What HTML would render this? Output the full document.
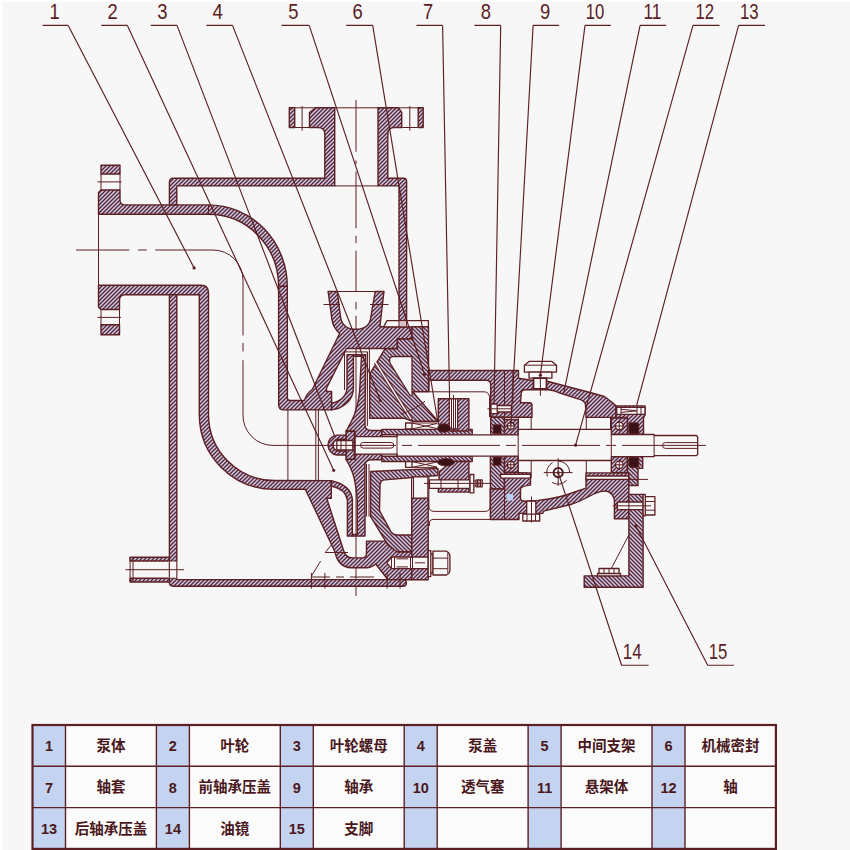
<!DOCTYPE html>
<html><head><meta charset="utf-8"><title>pump</title>
<style>
html,body{margin:0;padding:0;background:#f7f7f7;}
body{width:850px;height:850px;overflow:hidden;font-family:"Liberation Sans",sans-serif;}
svg{display:block}
.h{fill:url(#h);stroke:#5c2024;stroke-width:1.4;stroke-linejoin:round}
.k{fill:url(#k);stroke:#5c2024;stroke-width:1.4;stroke-linejoin:round}
.w{fill:#f7f7f7;stroke:#5c2024;stroke-width:1.3;stroke-linejoin:round}
.t{fill:none;stroke:#5c2024;stroke-width:1}
.m{fill:none;stroke:#5c2024;stroke-width:1.4}
.c{fill:none;stroke:#5c2024;stroke-width:1;stroke-dasharray:14 3 3 3}
.d{fill:#3a1216;stroke:#5c2024;stroke-width:1}
</style></head><body>
<svg width="850" height="850" viewBox="0 0 850 850">
<defs>
<pattern id="h" width="4" height="4" patternUnits="userSpaceOnUse"><rect width="4" height="4" fill="#c6caee"/><path d="M-1,1 L1,-1 M-1,5 L5,-1 M3,5 L5,3" stroke="#5e2327" stroke-width="1.3"/></pattern>
<pattern id="k" width="4" height="4" patternUnits="userSpaceOnUse"><rect width="4" height="4" fill="#c6caee"/><path d="M-1,3 L1,5 M-1,-1 L5,5 M3,-1 L5,1" stroke="#5e2327" stroke-width="1.3"/></pattern>
</defs>
<rect width="850" height="850" fill="#f7f7f7"/>
<rect x="0" y="0" width="2.2" height="850" fill="#ffffff"/><rect x="0" y="0" width="850" height="1.6" fill="#ffffff"/>
<!-- ===== centre lines (under) ===== -->
<g class="t">
<path d="M76,250 H129.4 M138,250 H146.7 M155.3,250 H213 A30,30 0 0 1 243,280 V335.5 M243,342.9 V351.5 M243,360.2 V415 A30,30 0 0 0 273,445.4"/>
<path d="M356,99.9 V151.8 M356,160.4 V164.1 M356,171.5 V228.3 M356,235.7 V243.2 M356,250.6 V291 M356,302 V309.5 M356,315.7 V596"/>
<path d="M287.9,410 V481 M315.8,410 V481 M318.4,410 V481"/>
</g>

<!-- ===== PUMP BODY (part 1) ===== -->
<!-- inlet: top flange + top wall + upper elbow -->
<rect class="h" x="101" y="165.3" width="19" height="8.7"/>
<path class="t" d="M101,174 V190 M120,174 V190 M97.5,181.9 H121.5"/>
<path class="h" d="M101,190 L120,190 L120,200 Q120,204.9 125,204.9 L208.5,204.9 A79,81.5 0 0 1 287.3,286.4 L278.6,286.4 A70,72 0 0 0 208.5,214.3 L98.5,214.3 L98.5,192.5 Z"/>
<path class="t" d="M208.5,204.9 V214.3 M98.5,214.3 V285.3"/>
<!-- inlet: bottom flange + bottom wall + inner wall + lower elbow + lower volute -->
<path class="h" d="M98.5,285.3 L201,285.3 Q208.5,285.3 208.5,293 L208.5,414.4 A66,66 0 0 0 274.3,480.5 L331.3,480.6 L331.3,498.2 L326.7,498.2 L343.5,550.2 Q345.5,557.9 352.7,557.9 L361.9,557.9 Q366.5,557.9 366.5,553.3 L366.5,541.1 L397,541.1 L397,551.8 L411.8,551.8 L411.8,579.8 L388,579.8 L375.7,564 Q371,567.8 366.5,567.8 L351.2,567.8 Q338,567 335,552 L305.3,489.1 L274.3,489.4 A75,75 0 0 1 199.3,414.4 L199.3,294.7 L125,294.7 Q119.5,294.7 119.5,300 L119.5,309.5 L101,309.5 L98.5,307 Z"/>
<path class="t" d="M101,309.5 V324.8 M119.5,309.5 V324.8 M97.5,317.4 H121"/>
<rect class="h" x="101" y="324.8" width="18.5" height="9.9"/>
<!-- tank top + outlet pipe left -->
<path class="h" d="M169.4,204.9 L169.4,182.2 Q169.4,178.2 173.4,178.2 L324.8,178.2 L324.8,134 Q324.8,127.5 318,127.5 L309.5,127.5 L309.5,112.5 L315.7,107.8 L334.7,107.8 L334.7,185.9 L176.8,185.9 L176.8,204.9 Z"/>
<rect class="h" x="289.3" y="107.8" width="5.4" height="19.7"/>
<path class="t" d="M294.7,107.8 H315.7 M294.7,127.5 H309.5 M302.1,106 V130.5"/>
<!-- outlet pipe right + tank right wall -->
<path class="h" d="M378,107.8 L398.5,107.8 L401.7,112.5 L401.7,127.5 L394.5,127.5 Q387.8,127.5 387.8,134 L387.8,178.2 L403.6,178.2 Q406.6,178.2 406.6,181.2 L406.6,320.6 L399,320.6 L399,185.9 L378,185.9 Z"/>
<rect class="h" x="418.2" y="107.8" width="5" height="19.7"/>
<path class="t" d="M398.5,107.8 H418.2 M401.7,127.5 H418.2 M409.8,106 V130.5 M334.7,107.8 H378 M334.7,185.9 H378"/>
<!-- tank left wall + floor -->
<path class="h" d="M169.4,294.7 L176.8,294.7 L176.8,579.6 L403,579.6 Q406.4,579.6 406.4,583 Q406.4,586.2 403,586.2 L173,586.2 Q169.4,586.2 169.4,582.6 Z"/>
<!-- drain nipple -->
<rect class="h" x="130.1" y="557.3" width="39.3" height="3.7"/>
<rect class="h" x="130.1" y="578.3" width="39.3" height="3.7"/>
<rect x="168.5" y="561" width="9.2" height="17.3" fill="#f7f7f7"/><path class="t" d="M130.1,557.3 V582 M133,557.3 V582 M169.4,561 H176.8 M169.4,578.3 H176.8 M169.4,561 V578.3 M176.8,561 V578.3 M125.5,569.7 H184"/>

<!-- ===== upper body: channel wall + volute + funnel + band ===== -->
<path class="h" d="M278.6,286.4 L287.3,286.4 L287.4,398 Q287.4,400.5 290,400.5 L304.5,400.5 Q306,394 312.4,389.2 L339.6,333.5 Q333,327 332,319.8 L328.1,291.5 L337.3,291.5 L340.4,316 Q342,329.3 356,329.3 Q370,329.3 371,316 L375.2,291.5 L384,291.5 L380.4,322 L380,326.8 L412,326.8 L412,339 L397.4,339 L397.4,348.5 L346.5,348.5 L326.5,388.2 L326.5,391.5 L331.6,391.5 L331.6,409.9 L283.7,409.9 Q278.7,409.9 278.7,404.9 Z"/>
<path class="t" d="M323.5,304.5 H340 M370,304.5 H388.5 M278.6,286.4 H287.3 M337.3,291.5 H375.2"/>
<!-- small unhatched rectangle on top of cover -->
<path class="w" d="M387,320.6 L428.4,320.6 L428.4,326.8 L383.6,326.8 Z"/>
<rect x="399" y="320.6" width="7.6" height="6.2" fill="#dcc0c8" stroke="#5c2024" stroke-width="1"/>

<!-- ===== IMPELLER (part 2) ===== -->
<path class="t" d="M344.5,390 V351.9 H367.4 V390 M369.4,348.5 V374"/>
<!-- upper front shroud -->
<path class="h" d="M347,354.6 L353.4,354.6 L353.4,388 Q353.2,402 338,408.5 L331.6,409.9 L331.6,403.3 Q346,400 347,388 Z"/>
<!-- upper back shroud + hub -->
<path class="h" d="M353.4,354.6 L365.6,354.6 L365,425.2 Q365.5,430.3 371.2,430.5 L381.9,430.5 L381.9,436.7 L355,436.7 L355,431.3 L346,431.3 Q352,421 354.4,414.5 Q359,401 359.7,390 L361.5,356.2 L353.4,356.2 Z"/>
<!-- lower front shroud -->
<path class="h" d="M347.4,536 L352.4,536 L352.4,499.8 Q351.5,488 338,482.6 L331.3,480.6 L331.3,486 Q345.5,489 347.4,499.8 Z"/>
<!-- lower back shroud + hub -->
<path class="h" d="M352.4,536 L365,536 L365,464.6 Q365.5,460 371.2,459.8 L381.9,459.8 L381.9,454.2 L355,454.2 L355,459.3 L346,459.3 Q352,469 354.2,478.4 Q356.8,490 357.3,500 L357.3,534.4 L352.4,534.4 Z"/>
<path class="t" d="M366.5,464 V516.6 M369,464 V516.6 M367.4,351.9 V426"/>

<!-- ===== PUMP COVER (part 4) \\ hatch ===== -->
<path class="k" d="M369.7,374.1 L385,348.8 L397.4,348.8 L397.4,339 L412,339 L412,326.8 L428.5,326.8 L428.5,391.8 L412.6,391.8 L438,421.2 L412,421.2 L403.8,418.2 L369.7,418.2 Z"/>
<!-- cavity -->
<path class="w" d="M393.5,356.5 L412,356.5 L412,395.3 Q410.5,396.3 409.5,394.5 L390,363 Q388.3,356.5 393.5,356.5 Z"/>
<!-- drilled hole -->
<path d="M375.5,362.3 L411.5,420" stroke="#5c2024" stroke-width="3.6" fill="none"/>
<path d="M375,361.5 L411,419.2" stroke="#f5f1f2" stroke-width="1.6" fill="none"/>
<path class="t" d="M400.9,414.1 Q414,410 425,401.2 M429.1,380.3 V391.8"/>
<!-- lower cover -->
<path class="k" d="M370.6,471.5 L438,468.4 L438,475.5 L427,476.3 L384.8,479.9 Q380,480 380,486 L379.5,510.5 L389.4,528.8 Q391.5,535 397,535 L411.8,535 L411.8,551.8 L397,551.8 L387.9,544.9 L370.6,516.6 Z"/>
<path class="h" d="M411.8,498.2 H428.2 V579.8 H411.8 Z"/>
<path class="w" d="M413.4,476.8 H427.9 V498.2 H413.4 Z"/>
<path class="t" d="M411.5,476.8 V535"/>

<!-- stud at bottom of cover -->
<path class="w" d="M386.9,562.8 L391.5,557 H428.2 V568.7 H391.5 Z"/>
<path class="w" d="M428.2,550.7 H430.8 V576.6 H428.2 Z M430.8,554 H433 V573 H430.8 Z"/>
<path class="w" d="M433,551.2 H446.5 Q449.9,553 449.9,556 V570 Q449.9,573.5 446.5,575 H433 Z"/>
<path class="t" d="M433,558.1 H447.8 M433,568.7 H447.8 M447.8,553 V573.5 M391.5,557 V568.7 M394.5,557 V568.7 M396.5,558.8 H408 M396.5,566.9 H408 M410.5,557 V568.7 M412.5,557 V568.7 M415,562.8 H425"/>

<!-- ===== shaft sleeve (part 7) ===== -->
<path class="k" d="M381.9,429.4 H472.2 V434.8 H381.9 Z"/>
<path class="k" d="M381.9,456.2 H472.2 V461.5 H381.9 Z"/>

<!-- ===== mechanical seal (part 6) ===== -->
<path class="w" d="M405.6,423 H412 V429 H405.6 Z M405.6,461.6 H412 V467.4 H405.6 Z"/>
<path class="t" d="M412,423 L437,428.5 M412,429 L437,423.5 M412,423 H437 M412,461.6 L437,467 M412,467.4 L437,462 M412,467.4 H437"/>
<!-- gland -->
<path class="h" d="M438.3,398.8 H468.9 V431 H450 L438.3,424 Z"/>
<path class="w" d="M449.3,398.8 H457.7 V429 H449.3 Z"/>
<path class="t" d="M451.5,398.8 V429 M455.5,398.8 V429 M453.5,395 V432"/>
<path class="h" d="M439.4,471.5 L452,461.5 L468.9,461.5 L468.9,492.1 L438.3,492.1 Z"/>
<path class="w" d="M429.4,479.9 H470 V488.3 H429.4 Z"/>
<path class="w" d="M470,474.5 H473.8 V492.9 H470 Z M476,479.9 H482.2 V486.8 H476 Z"/>
<path class="t" d="M424,483.4 H490.6 M441,479.9 V488.3 M458,479.9 V488.3 M477.5,480 V486.8 M479,480 V486.8 M480.5,480 V486.8 M473.8,481 H476 M473.8,485.8 H476"/>

<ellipse class="d" cx="444" cy="428" rx="6.3" ry="4.2"/>
<ellipse class="d" cx="446" cy="462.3" rx="8.5" ry="3.6"/>
<!-- ===== BRACKET + BEARING HOUSING (parts 5, 11) ===== -->
<path class="h" d="M428.5,370.5 L518.5,370.5 L518.5,378.2 L532.8,380.5 L547.3,381.3 L570,387.3 L590,392.5 L604.4,396.5 L611,401.5 L616,405.9 L616,417.4 L586,417.4 L585.5,404.2 Q584.5,400.5 577.9,398.9 L560,393 Q552,389.7 547.3,389.7 L524.4,389.7 Q521.3,390 521.3,392.8 L520.5,402.7 L529.7,402.7 Q532,403 532,405 L532,417.2 L490.7,417.2 L490.7,385 Q490.7,380.3 486,380.3 L428.5,380.3 Z"/>
<path class="t" d="M504.5,370.5 V417 M512.9,370.5 V404 M428.5,391.8 H484 Q489.5,392 489.5,397.5 V417 M518.2,417.2 V429.3 M531.2,417.2 V429.3 M586.3,417.2 V429.3 M610.5,417.2 V429.3"/>
<!-- front bolt -->
<path class="w" d="M491,404 H497.2 V413.6 H491 Z M497.2,405.5 H511.4 V412 H497.2 Z"/>
<path class="t" d="M487.5,408.8 H513"/>
<!-- front bearing cover (8) near shaft + oil seal -->
<path class="k" d="M490.7,417.2 H504.5 V434.8 H490.7 Z"/>
<rect class="d" x="493.3" y="424.9" width="7.7" height="8.4"/>
<!-- front bearing upper -->
<path class="h" d="M504.5,419.5 H518.2 V434.8 H504.5 Z"/>
<circle class="w" cx="510.8" cy="425.9" r="3.4"/>
<path class="t" d="M506,425.9 H515.6 M510.8,421 V430.8"/>
<!-- vent plug (10) -->
<path class="w" d="M529,361.4 H551.9 L556.5,365.2 V372.1 H524.4 V365.2 Z"/>
<path class="w" d="M529,372.1 H551.9 V378.2 H529 Z"/>
<path d="M533.5,378.2 H546.5 V389 H533.5 Z" fill="#f7f7f7" stroke="#5c2024" stroke-width="1.8"/>
<path class="t" d="M524.4,365.2 H556.5 M540.4,372 V395.8"/>

<!-- ===== rear bearing cover (13) ===== -->
<path class="h" d="M616,405.9 H645 V415 L643.5,418 V434.5 H627.4 V417.4 H616 Z"/>
<path class="w" d="M616.7,407.4 H645 V414.3 H616.7 Z"/>
<path class="t" d="M621,407.4 V414.3 M637,407.4 V414.3 M641,407.4 V414.3 M621,409.3 L637,410.8 L621,412.4"/>
<rect class="d" x="628.9" y="422.8" width="9.9" height="11.2" rx="2"/>
<!-- rear bearing upper -->
<path class="h" d="M611.3,418.1 H627.4 V434.5 H611.3 Z"/>
<circle class="w" cx="619.3" cy="426" r="3.8"/>
<path class="t" d="M614,426 H624.6 M619.3,420.7 V431.3"/>

<!-- ===== lower housing ===== -->
<path class="k" d="M490.4,456.2 H504.5 V489 H490.4 Z"/>
<path class="h" d="M504.5,472.5 L530.5,472.9 L530.5,485.1 Q521,486 520.5,489 L520.5,498.9 Q521,501 524,501.2 L538.1,500.4 Q560,498 574.8,492 L586,488.2 L586,472.9 L628.9,472.9 L628.9,518.8 L614.4,518.8 L614.4,500.5 Q613.5,494 608,491.5 Q603,490.3 594.7,493.5 Q580,501.5 571.8,504.2 L543.5,511.1 L542.7,513.4 L519,513.4 L519,519.5 L490.4,519.5 L490.4,489 L504.5,489 Z"/>
<path class="t" d="M504.5,489 V519.5"/>
<rect x="506.5" y="494" width="6.5" height="6.5" fill="#b9d0f3"/>
<!-- oil channels -->
<path class="w" d="M500.6,474.4 H530.5 V478.2 H500.6 Z M586,476 H628.9 V479.4 H586 Z"/>
<!-- front bearing lower -->
<rect class="d" x="493.3" y="457.2" width="7.7" height="8"/>
<path class="h" d="M504.5,456.2 H518.2 V472.2 H504.5 Z"/>
<circle class="w" cx="510.8" cy="464.8" r="3.4"/>
<path class="t" d="M506,464.8 H515.6 M510.8,460 V469.6 M531.2,460.5 V478 M586.3,460.5 V473"/>
<!-- drain plug -->
<path class="w" d="M526.7,501.2 H535.8 V514.2 H526.7 Z M522.8,514.2 H539.7 V521 H522.8 Z"/>
<path class="t" d="M531.5,496.6 V522.6 M527,514.2 V521 M535.5,514.2 V521"/>
<!-- rear bearing lower + cover -->
<path class="h" d="M611.3,456.6 H627.4 V472.6 H611.3 Z"/>
<circle class="w" cx="619.3" cy="464.8" r="3.8"/>
<path class="t" d="M614,464.8 H624.6 M619.3,459.5 V470.1"/>
<path class="k" d="M627.4,456.6 L642.7,456.6 L642.7,468.4 L638,468.4 L638,485.5 L628.9,485.5 L628.9,472.6 L627.4,472.6 Z"/>
<rect class="d" x="628.9" y="457.2" width="9.9" height="10.2" rx="2"/>
<path class="t" d="M628.9,479.4 H648"/>

<!-- bracket bottom thin outline -->
<path class="t" d="M428.9,476.6 V506 Q428.9,511.4 434,511.4 H485 Q490.1,511.4 490.1,506 V489 M429.4,526 V523 Q429.4,519.4 433,519.4 H490.4"/>

<!-- ===== SHAFT (12) ===== -->
<path class="w" d="M355.1,436.7 H397 V434.8 H518.2 V429.3 H611.3 V434.5 H654.1 V435.5 H696.4 L697.7,437 V454.2 L696.4,455.6 H654.1 V456.6 H611.3 V460.5 H518.2 V456.2 H397 V454.2 H355.1 Z"/>
<path class="t" d="M397,434.8 V456.2 M518.2,434.8 V456.2 M611.3,434.5 V456.6 M654.1,435.5 V455.6"/>
<path class="t" d="M363.3,442.5 H391 A2.8,2.8 0 0 1 391,448.1 H363.3 A2.8,2.8 0 0 1 363.3,442.5 Z"/>
<path class="t" d="M697.7,442.6 H665.4 A2.9,2.9 0 0 0 665.4,448.4 H697.7"/>
<!-- impeller nut (3) -->
<path class="h" d="M346,431.3 H354.4 V459.3 H346 Z"/>
<path class="h" d="M346,435.1 H337 A10,10 0 0 0 337,455 H346 V451 H338 A6,6 0 0 1 338,439.2 H346 Z"/>
<path class="w" d="M336.8,440.5 H352.8 V450 H336.8 Z"/>
<path class="t" d="M341,440.5 V450 M346,440.5 V450"/>
<!-- shaft centre line -->
<path class="t" d="M273,445.4 H396 M402,445.4 H412 M418,445.4 H500 M506,445.4 H516 M522,445.4 H600 M606,445.4 H616 M622,445.4 H706"/>

<!-- ===== oil sight glass (14) ===== -->
<circle cx="558.2" cy="472.6" r="4.6" fill="none" stroke="#4a161a" stroke-width="2"/>
<circle cx="558.2" cy="472.6" r="1.2" fill="#4a161a"/>
<path class="t" d="M543.8,472.6 H572.6 M558.2,458.2 V485.9"/>
<path class="t" d="M558.6,461.1 A11.5,11.5 0 0 1 569.7,472.6 M552.5,462.6 A11.5,11.5 0 0 0 547.4,476.5 M552.1,482.4 A11.5,11.5 0 0 0 566.7,480.3"/>

<!-- ===== FOOT (15) ===== -->
<path class="k" d="M628.9,494.4 L643.1,494.4 L643.1,587.2 L584.2,587.2 L584.2,575.9 L628.9,575.9 Z"/>
<path class="w" d="M617.4,502 H643.1 V509.7 H617.4 Z"/>
<path class="w" d="M643.1,494.4 H645.3 V515.8 H643.1 Z M645.3,496.7 H654.9 V515 H645.3 Z"/>
<path class="t" d="M645.3,501.5 H654.9 M645.3,510.2 H654.9 M612.8,505.8 H651 M628.9,534.9 L611.3,568.5 M628.9,502 V509.7"/>
<path class="w" d="M599,568.5 H619 V573.5 H599 Z M597.5,573.5 H620.5 V575.9 H597.5 Z"/>
<path class="t" d="M604,568.5 V573.5 M609,568.5 V573.5 M614,568.5 V573.5"/>

<!-- surface-finish marks & misc thin lines near floor -->
<path class="t" d="M334.4,541 L325.2,552.5 H348 M320.6,561 L311.4,576.2 M311,577 H330 M336,577 H344 M350,577 H374 M311.4,573 V588.5 M324.9,573 V588.5 M387.1,573 V588.5 M400.1,573 V588.5"/>

<g fill="none" stroke="#5c2024" stroke-width="1.15" stroke-linecap="butt" stroke-linejoin="round"><path d="M42.6,25.4 L68.2,25.4 M68.2,25.4 L194.1,267.9"/><path d="M101.3,25.4 L127.4,25.4 M127.4,25.4 L333.7,470.3"/><path d="M150.8,25.4 L177,25.4 M177,25.4 L334.3,435.3"/><path d="M206.4,25.4 L232.5,25.4 M232.5,25.4 L380.3,400.5"/><path d="M281.6,25.4 L309.2,25.4 M309.2,25.4 L424.5,374.3"/><path d="M346.2,25.4 L372.7,25.4 M372.7,25.4 L437.5,420"/><path d="M416.5,25.4 L442.6,25.4 M442.6,25.4 L449.6,399"/><path d="M474.4,25.4 L500.7,25.4 M500.7,25.4 L494,404"/><path d="M533.1,25.4 L559.1,25.4 M533.1,25.4 L510.8,425.8"/><path d="M585,25.4 L610.8,25.4 M585,25.4 L540.4,375.2"/><path d="M640.1,25.4 L666.2,25.4 M640.1,25.4 L563.8,392.6"/><path d="M693,25.4 L719.5,25.4 M693,25.4 L575.6,445.2"/><path d="M738.6,25.4 L765,25.4 M738.6,25.4 L636.5,405.9"/><path d="M648.6,665.2 L621.6,665.2 L558.2,472.6"/><path d="M734,665.2 L707.7,665.2 L635.8,525.7"/></g>
<g fill="#5c2024" stroke="none" font-family="&quot;Liberation Sans&quot;, sans-serif" font-size="22.5px">
<text x="49.6" y="18.6" textLength="10.2" lengthAdjust="spacingAndGlyphs">1</text>
<text x="107.4" y="18.6" textLength="10.2" lengthAdjust="spacingAndGlyphs">2</text>
<text x="157.3" y="18.6" textLength="10.2" lengthAdjust="spacingAndGlyphs">3</text>
<text x="212.4" y="18.6" textLength="10.4" lengthAdjust="spacingAndGlyphs">4</text>
<text x="288.3" y="18.6" textLength="10.2" lengthAdjust="spacingAndGlyphs">5</text>
<text x="352.6" y="18.6" textLength="10.2" lengthAdjust="spacingAndGlyphs">6</text>
<text x="423.1" y="18.6" textLength="10.2" lengthAdjust="spacingAndGlyphs">7</text>
<text x="480.8" y="18.6" textLength="10.2" lengthAdjust="spacingAndGlyphs">8</text>
<text x="540.0" y="18.6" textLength="10.2" lengthAdjust="spacingAndGlyphs">9</text>
<text x="585.8" y="18.6" textLength="18.6" lengthAdjust="spacingAndGlyphs">10</text>
<text x="643.5" y="18.6" textLength="18.0" lengthAdjust="spacingAndGlyphs">11</text>
<text x="695.4" y="18.6" textLength="18.6" lengthAdjust="spacingAndGlyphs">12</text>
<text x="739.9" y="18.6" textLength="18.6" lengthAdjust="spacingAndGlyphs">13</text>
<text x="622.8" y="659.3" textLength="18.8" lengthAdjust="spacingAndGlyphs">14</text>
<text x="708.8" y="659.3" textLength="18.6" lengthAdjust="spacingAndGlyphs">15</text>
</g>
<g fill="#5c2024"><circle cx="194.1" cy="267.9" r="1.6"/><circle cx="333.7" cy="470.3" r="1.6"/><circle cx="380.3" cy="400.5" r="1.6"/><circle cx="424.5" cy="374.3" r="1.6"/><circle cx="540.4" cy="375.2" r="1.6"/><circle cx="575.6" cy="445.2" r="1.6"/><circle cx="558.2" cy="472.6" r="1.5"/><circle cx="635.8" cy="525.7" r="1.5"/></g>
<rect x="32.5" y="725" width="743.4" height="123.9" fill="#fbfbfb"/><rect x="32.5" y="725" width="33.0" height="123.9" fill="#c4d3ef"/><rect x="156.4" y="725" width="33.0" height="123.9" fill="#c4d3ef"/><rect x="280.3" y="725" width="33.0" height="123.9" fill="#c4d3ef"/><rect x="404.2" y="725" width="33.0" height="123.9" fill="#c4d3ef"/><rect x="528.1" y="725" width="33.0" height="123.9" fill="#c4d3ef"/><rect x="652.0" y="725" width="33.0" height="123.9" fill="#c4d3ef"/><path d="M32.5,766.3 H775.9 M32.5,807.6 H775.9 M65.5,725 V848.9 M156.4,725 V848.9 M189.4,725 V848.9 M280.3,725 V848.9 M313.3,725 V848.9 M404.2,725 V848.9 M437.2,725 V848.9 M528.1,725 V848.9 M561.1,725 V848.9 M652.0,725 V848.9 M685.0,725 V848.9" stroke="#5c2024" stroke-width="1.4" fill="none"/><rect x="32.5" y="725" width="743.4" height="123.9" fill="none" stroke="#5c2024" stroke-width="2.2"/><g fill="#4a181c" font-family="&quot;Liberation Sans&quot;, &quot;Noto Sans CJK SC&quot;, sans-serif" font-weight="bold" font-size="14.5px" text-anchor="middle">
<text x="49" y="751.2">1</text><text x="110.95" y="751.1">泵体</text>
<text x="172.9" y="751.2">2</text><text x="234.85" y="751.1">叶轮</text>
<text x="296.8" y="751.2">3</text><text x="358.75" y="751.1">叶轮螺母</text>
<text x="420.7" y="751.2">4</text><text x="482.65" y="751.1">泵盖</text>
<text x="544.6" y="751.2">5</text><text x="606.55" y="751.1">中间支架</text>
<text x="668.5" y="751.2">6</text><text x="730.45" y="751.1">机械密封</text>
<text x="49" y="792.5">7</text><text x="110.95" y="792.4">轴套</text>
<text x="172.9" y="792.5">8</text><text x="234.85" y="792.4">前轴承压盖</text>
<text x="296.8" y="792.5">9</text><text x="358.75" y="792.4">轴承</text>
<text x="420.7" y="792.5">10</text><text x="482.65" y="792.4">透气塞</text>
<text x="544.6" y="792.5">11</text><text x="606.55" y="792.4">悬架体</text>
<text x="668.5" y="792.5">12</text><text x="730.45" y="792.4">轴</text>
<text x="49" y="833.8">13</text><text x="110.95" y="833.7">后轴承压盖</text>
<text x="172.9" y="833.8">14</text><text x="234.85" y="833.7">油镜</text>
<text x="296.8" y="833.8">15</text><text x="358.75" y="833.7">支脚</text>
</g>
</svg>
</body></html>
